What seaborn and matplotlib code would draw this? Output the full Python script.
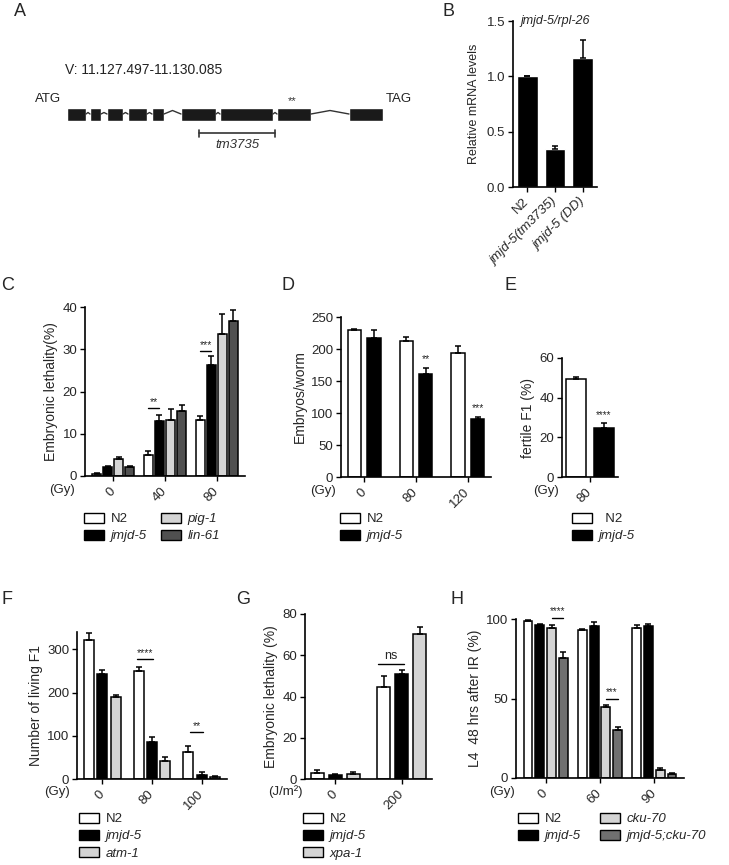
import numpy as np
import pandas as pd
import matplotlib
matplotlib.use("Agg")
import matplotlib.pyplot as plt
from matplotlib.patches import Patch
import seaborn as sns

# ---- data ----
# A: gene model of jmjd-5 (diagram units)
exon_start = [67, 90, 107, 128, 152, 181, 220, 277, 349]
exon_end = [86, 101, 123, 147, 164, 216, 273, 311, 383]
deletion = [199, 275]

# B: qPCR
b_strains = ["N2", "jmjd-5(tm3735)", "jmjd-5 (DD)"]
b_mean = [1.0, 0.34, 1.17]
b_err = [0.005, 0.03, 0.16]

# C: embryonic lethality after IR
c_doses = ["0", "40", "80"]
c_strains = ["N2", "jmjd-5", "pig-1", "lin-61"]
c_mean = [[0.55, 5.0, 13.2], [2.1, 13.1, 26.2], [4.1, 13.3, 33.7], [2.1, 15.5, 36.8]]
c_err = [[0.2, 0.8, 1.0], [0.3, 1.4, 2.3], [0.5, 2.6, 4.6], [0.3, 1.2, 2.6]]

# D: embryos per worm
d_doses = ["0", "80", "120"]
d_strains = ["N2", "jmjd-5"]
d_mean = [[229, 213, 193.5], [216.5, 160.6, 90]]
d_err = [[3, 5.6, 11], [13.5, 9.4, 4]]

# E: fertile F1
e_doses = ["80"]
e_strains = ["N2", "jmjd-5"]
e_mean = [[49.2], [24.6]]
e_err = [[1.3], [2.8]]

# F: living F1
f_doses = ["0", "80", "100"]
f_strains = ["N2", "jmjd-5", "atm-1"]
f_mean = [[321, 250, 63.5], [244, 85, 10], [189, 40.5, 4.6]]
f_err = [[16, 9, 13.5], [8, 11, 6], [5, 9.5, 1.4]]

# G: embryonic lethality after UV
g_doses = ["0", "200"]
g_strains = ["N2", "jmjd-5", "xpa-1"]
g_mean = [[3.1, 44.8], [2.1, 50.8], [2.6, 70.5]]
g_err = [[1.4, 5.2], [0.3, 2.0], [1.0, 3.4]]

# H: L4 survival
h_doses = ["0", "60", "90"]
h_strains = ["N2", "jmjd-5", "cku-70", "jmjd-5;cku-70"]
h_mean = [[99.0, 93.3, 94.5], [96.2, 95.8, 95.4], [94.3, 44.9, 5.2], [75.7, 30.2, 2.5]]
h_err = [[0.4, 0.7, 1.5], [0.6, 2.1, 1.5], [1.7, 1.2, 0.9], [3.3, 1.7, 0.9]]

LIGHT = "#d4d4d4"
DARK = "#505050"
MID = "#707070"

sns.set_style("ticks")
plt.rcParams['font.family'] = ['Liberation Sans', 'DejaVu Sans']

W, H = 729, 865
fig = plt.figure(figsize=(W / 100, H / 100), dpi=100)


def px_axes(l, t, r, b):
    return fig.add_axes([l / W, 1 - b / H, (r - l) / W, (b - t) / H])


def ftext(x, y, s, **kw):
    fig.text(x / W, 1 - y / H, s, **kw)


def style(ax, doses):
    sns.despine(ax=ax)
    for s in ["left", "bottom"]:
        ax.spines[s].set_linewidth(1.2)
        ax.spines[s].set_color("black")
    ax.tick_params(length=3.5, width=1, labelsize=9.5, color="black", pad=2)
    ax.set_xlabel("")
    ax.set_xticks(range(len(doses)))
    ax.set_xticklabels(doses, rotation=45, ha="right", va="center",
                       rotation_mode="anchor")
    ax.tick_params(axis="x", pad=6)


def bars(ax, doses, strains, means, errs, colors, width, gap):
    rows = []
    for s, vals in zip(strains, means):
        for d, v in zip(doses, vals):
            rows.append({"dose": d, "strain": s, "value": v})
    df = pd.DataFrame(rows)
    sns.barplot(data=df, x="dose", y="value", hue="strain", order=doses,
                hue_order=strains, palette=colors, width=width, gap=gap,
                edgecolor="black", linewidth=1.1, errorbar=None, legend=False,
                saturation=1, ax=ax)
    centers = []
    k = 0
    for i in range(len(strains)):
        row = []
        for j in range(len(doses)):
            p = ax.patches[k]
            k += 1
            x = p.get_x() + p.get_width() / 2
            row.append(x)
            ax.errorbar(x, means[i][j], yerr=[[0], [errs[i][j]]], fmt="none",
                        ecolor="black", elinewidth=1.1, capsize=2.3,
                        capthick=1.1, clip_on=False, zorder=1)
        centers.append(row)
    return centers


def sig(ax, x0, x1, y, label, dy, size=7.5):
    ax.plot([x0, x1], [y, y], color="black", lw=1, clip_on=False)
    ax.text((x0 + x1) / 2, y + dy, label, ha="center", va="bottom",
            fontsize=size)


def legend(labels, colors, x, y, ncol=1, colsp=1.0):
    handles = [Patch(facecolor=c, edgecolor="black", linewidth=1) for c in colors]
    leg = fig.legend(handles, labels, loc="upper left",
                     bbox_to_anchor=(x / W, 1 - y / H), ncol=ncol, frameon=False,
                     fontsize=9.5, handlelength=1.5, handleheight=0.75,
                     handletextpad=0.5, labelspacing=0.35, columnspacing=colsp,
                     borderpad=0, borderaxespad=0)
    for t in leg.get_texts():
        if t.get_text().strip() != "N2":
            t.set_fontstyle("italic")


# ---- A: gene structure ----
axA = fig.add_axes([0, 1 - 200 / H, 450 / W, 200 / H])
axA.set_xlim(0, 450)
axA.set_ylim(200, 0)
axA.axis("off")
axA.broken_barh([(s, e - s) for s, e in zip(exon_start, exon_end)], (107.5, 13),
                facecolors="#1a1a1a")
for k in range(len(exon_start) - 1):
    x0, x1 = exon_end[k], exon_start[k + 1]
    peak = 112.5 if x1 - x0 < 8 else 110.5
    axA.plot([x0, (x0 + x1) / 2, x1], [114, peak, 114], color="#333333", lw=1)
axA.plot(deletion, [133, 133], color="#333333", lw=1.2)
for x in deletion:
    axA.plot([x, x], [129.5, 136.5], color="#333333", lw=1.2)
axA.text(sum(deletion) / 2, 145, "tm3735", ha="center", va="center",
         fontsize=9.5, style="italic", color="#333333")
axA.text(65, 70, "V: 11.127.497-11.130.085", ha="left", va="center", fontsize=10,
         color="#222222")
axA.text(61, 99, "ATG", ha="right", va="center", fontsize=9.5, color="#222222")
axA.text(386, 99, "TAG", ha="left", va="center", fontsize=9.5, color="#222222")
axA.text(292, 101, "**", ha="center", va="center", fontsize=8, color="#333333")

# ---- B ----
axB = px_axes(513, 21, 597, 187)
sns.barplot(x=b_strains, y=b_mean, color="black", saturation=1, width=0.75,
            errorbar=None, ax=axB)
for p, m, e in zip(axB.patches, b_mean, b_err):
    axB.errorbar(p.get_x() + p.get_width() / 2, m, yerr=[[0], [e]], fmt="none",
                 ecolor="black", elinewidth=1.1, capsize=2.3, capthick=1.1,
                 clip_on=False)
style(axB, b_strains)
for t in axB.get_xticklabels():
    if t.get_text() != "N2":
        t.set_fontstyle("italic")
axB.set_ylim(0, 1.5)
axB.set_yticks([0, 0.5, 1.0, 1.5])
axB.set_yticklabels(["0.0", "0.5", "1.0", "1.5"])
axB.set_ylabel("Relative mRNA levels", fontsize=9, labelpad=5)
axB.text(1.0, 1.5, "jmjd-5/rpl-26", ha="center", va="center", fontsize=9,
         style="italic")

# ---- C ----
axC = px_axes(85, 307, 245, 476)
cc = bars(axC, c_doses, c_strains, c_mean, c_err, ["white", "black", LIGHT, DARK],
          0.85, 0.2)
style(axC, c_doses)
axC.set_ylim(0, 40)
axC.set_yticks([0, 10, 20, 30, 40])
axC.set_ylabel("Embryonic lethality(%)", fontsize=10, labelpad=3)
sig(axC, cc[0][1], cc[1][1], 16.0, "**", 0.2)
sig(axC, cc[0][2], cc[1][2], 29.7, "***", 0.2)
ftext(62, 490, "(Gy)", ha="center", va="center", fontsize=9.5)
legend(c_strains, ["white", "black", LIGHT, DARK], 84, 513, ncol=2, colsp=1.1)

# ---- D ----
axD = px_axes(341, 317, 491, 477)
dc = bars(axD, d_doses, d_strains, d_mean, d_err, ["white", "black"], 0.76, 0.32)
style(axD, d_doses)
axD.set_ylim(0, 250)
axD.set_yticks([0, 50, 100, 150, 200, 250])
axD.set_ylabel("Embryos/worm", fontsize=10, labelpad=3)
axD.text(dc[1][1], d_mean[1][1] + d_err[1][1] + 6, "**", ha="center",
         va="bottom", fontsize=7.5)
axD.text(dc[1][2], d_mean[1][2] + d_err[1][2] + 6, "***", ha="center",
         va="bottom", fontsize=7.5)
ftext(323, 491, "(Gy)", ha="center", va="center", fontsize=9.5)
legend(d_strains, ["white", "black"], 340, 513)

# ---- E ----
axE = px_axes(562, 358, 618, 477)
ec = bars(axE, e_doses, e_strains, e_mean, e_err, ["white", "black"], 1.0, 0.32)
style(axE, e_doses)
axE.set_xlim(-0.5, 0.5)
axE.set_ylim(0, 60)
axE.set_yticks([0, 20, 40, 60])
axE.set_ylabel("fertile F1 (%)", fontsize=10, labelpad=3)
axE.text(ec[1][0], e_mean[1][0] + e_err[1][0] + 1.5, "****", ha="center",
         va="bottom", fontsize=7)
ftext(546, 491, "(Gy)", ha="center", va="center", fontsize=9.5)
legend(["  N2", "jmjd-5"], ["white", "black"], 572, 513)

# ---- F ----
axF = px_axes(77, 632, 227, 779)
fc = bars(axF, f_doses, f_strains, f_mean, f_err, ["white", "black", LIGHT],
          0.81, 0.26)
style(axF, f_doses)
axF.set_ylim(0, 340)
axF.set_yticks([0, 100, 200, 300])
axF.set_ylabel("Number of living F1", fontsize=10, labelpad=3)
sig(axF, fc[0][1] - 0.03, fc[1][1] + 0.03, 277, "****", 2)
sig(axF, fc[0][2] + 0.03, fc[1][2] + 0.03, 108, "**", 2)
ftext(57, 792, "(Gy)", ha="center", va="center", fontsize=9.5)
legend(f_strains, ["white", "black", LIGHT], 79, 813)

# ---- G ----
axG = px_axes(305, 614, 432, 779)
gc = bars(axG, g_doses, g_strains, g_mean, g_err, ["white", "black", LIGHT],
          0.81, 0.28)
style(axG, g_doses)
axG.set_ylim(0, 80)
axG.set_yticks([0, 20, 40, 60, 80])
axG.set_ylabel("Embryonic lethality (%)", fontsize=10, labelpad=3)
sig(axG, gc[0][1] - 0.08, gc[1][1] + 0.03, 55.7, "ns", 1.2, size=9)
ftext(285, 792, "(J/m²)", ha="center", va="center", fontsize=9.5)
legend(g_strains, ["white", "black", LIGHT], 303, 813)

# ---- H ----
axH = px_axes(516, 619, 684, 778)
hc = bars(axH, h_doses, h_strains, h_mean, h_err, ["white", "black", LIGHT, MID],
          0.87, 0.25)
style(axH, h_doses)
axH.set_ylim(0, 100)
axH.set_yticks([0, 50, 100])
axH.set_ylabel("L4  48 hrs after IR (%)", fontsize=10, labelpad=3)
sig(axH, hc[2][0], hc[3][0], 100.6, "****", 1.0, size=7)
sig(axH, hc[2][1], hc[3][1], 49.6, "***", 1.0, size=7)
ftext(502, 792, "(Gy)", ha="center", va="center", fontsize=9.5)
legend(h_strains, ["white", "black", LIGHT, MID], 518, 813, ncol=2, colsp=1.5)

# ---- panel letters ----
for lab, x, y in [("A", 20, 12), ("B", 448, 12), ("C", 8, 285), ("D", 288, 285),
                  ("E", 510, 285), ("F", 7, 600), ("G", 243, 600), ("H", 457, 600)]:
    ftext(x, y, lab, ha="center", va="center", fontsize=13)

fig.savefig("out.png", dpi=100)
